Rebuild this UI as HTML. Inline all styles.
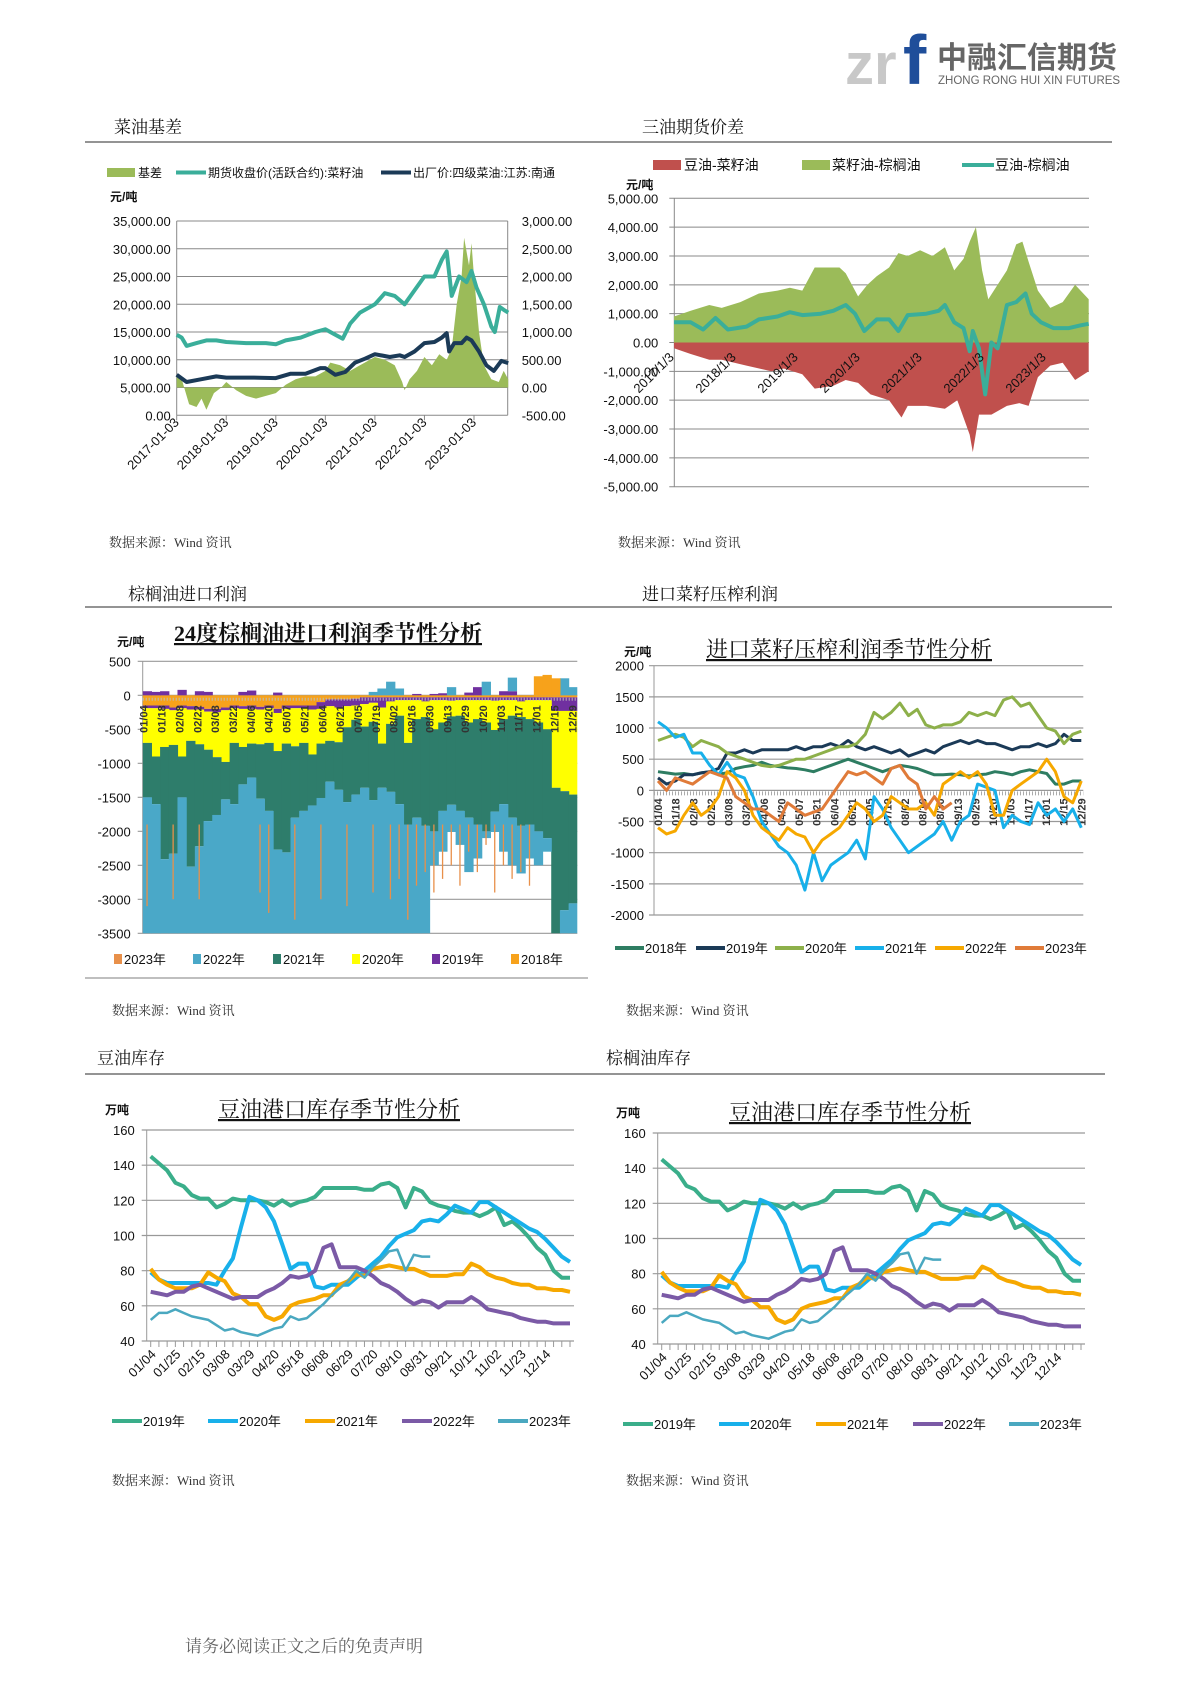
<!DOCTYPE html>
<html><head><meta charset="utf-8">
<style>
body{margin:0;background:#fff;}
svg text{font-family:"Liberation Sans","Noto Sans CJK SC",sans-serif;}
.hd{font-family:"Liberation Serif","Noto Serif CJK SC",serif;font-size:17px;fill:#111;}
.src{font-family:"Liberation Serif","Noto Serif CJK SC",serif;font-size:13px;fill:#333;}
.ttl{font-family:"Liberation Serif","Noto Serif CJK SC",serif;font-size:22px;fill:#111;text-decoration:underline;}
</style></head>
<body>
<svg id="pg" width="1190" height="1683" viewBox="0 0 1190 1683" xmlns="http://www.w3.org/2000/svg">
<g>
<text x="845" y="84" font-size="58" font-weight="bold" fill="#c8c8c8" style="font-family:'Liberation Sans',sans-serif">zr</text>
<text x="903" y="84" font-size="70" font-weight="bold" fill="#1f4e9a" style="font-family:'Liberation Sans',sans-serif">f</text>
<text x="937" y="68" font-size="30" font-weight="bold" fill="#666">中融汇信期货</text>
<text x="938" y="84" font-size="11.5" fill="#666">ZHONG RONG HUI XIN FUTURES</text>
</g>
<g>
<text class="hd" x="114" y="133">菜油基差</text>
<text class="hd" x="642" y="133">三油期货价差</text>
<line x1="85" y1="142" x2="1112" y2="142" stroke="#555" stroke-width="1.2"/>
<text class="hd" x="128" y="600">棕榈油进口利润</text>
<text class="hd" x="642" y="600">进口菜籽压榨利润</text>
<line x1="85" y1="607" x2="1112" y2="607" stroke="#555" stroke-width="1.2"/>
<text class="hd" x="97" y="1064">豆油库存</text>
<text class="hd" x="606" y="1064">棕榈油库存</text>
<line x1="85" y1="1074" x2="1105" y2="1074" stroke="#555" stroke-width="1.2"/>
<line x1="85" y1="978" x2="588" y2="978" stroke="#999" stroke-width="1.2"/>
</g>
<g>
<text class="src" x="109" y="547">数据来源：Wind 资讯</text>
<text class="src" x="618" y="547">数据来源：Wind 资讯</text>
<text class="src" x="112" y="1015">数据来源：Wind 资讯</text>
<text class="src" x="626" y="1015">数据来源：Wind 资讯</text>
<text class="src" x="112" y="1485">数据来源：Wind 资讯</text>
<text class="src" x="626" y="1485">数据来源：Wind 资讯</text>
</g>
<text x="185" y="1652" font-size="17" fill="#666" style="font-family:'Liberation Serif','Noto Serif CJK SC',serif">请务必阅读正文之后的免责声明</text>
</svg>
<script>
// ---------- Chart 1 data: 菜油基差 ----------
const c1BasisT=[2017.0,2017.1,2017.25,2017.4,2017.5,2017.6,2017.75,2017.9,2018.0,2018.2,2018.4,2018.6,2018.8,2019.0,2019.2,2019.4,2019.6,2019.8,2020.0,2020.1,2020.3,2020.5,2020.7,2020.9,2021.0,2021.2,2021.4,2021.55,2021.6,2021.7,2021.85,2022.0,2022.15,2022.3,2022.45,2022.55,2022.65,2022.75,2022.8,2022.9,2022.95,2023.0,2023.1,2023.2,2023.35,2023.5,2023.6,2023.69];
const c1BasisV=[200,150,-300,-350,-200,-400,-100,0,100,-50,-150,-200,-150,-100,50,150,200,200,300,450,400,300,400,500,550,500,400,100,-50,150,300,550,400,600,500,700,1500,2000,2700,2200,2600,2000,1000,400,150,100,300,150];
const c1FutT=[2017.0,2017.1,2017.2,2017.4,2017.6,2017.8,2018.0,2018.4,2018.8,2019.0,2019.2,2019.5,2019.8,2020.0,2020.2,2020.35,2020.5,2020.7,2021.0,2021.2,2021.4,2021.6,2021.8,2022.0,2022.2,2022.35,2022.45,2022.55,2022.7,2022.85,2022.95,2023.05,2023.2,2023.35,2023.42,2023.52,2023.6,2023.69];
const c1FutV=[14500,14000,12500,13000,13500,13500,13200,13000,13000,12800,13500,14000,15000,15500,14500,13800,16500,18500,20000,22000,21500,20000,22500,25000,25000,28000,29500,21500,25000,24000,26000,23000,20000,16000,15000,19500,19000,18500];
const c1SpotT=[2017.0,2017.2,2017.5,2017.8,2018.0,2018.5,2019.0,2019.3,2019.6,2019.9,2020.0,2020.2,2020.4,2020.6,2020.8,2021.0,2021.3,2021.5,2021.6,2021.8,2022.0,2022.2,2022.35,2022.45,2022.5,2022.6,2022.75,2022.85,2022.95,2023.1,2023.25,2023.4,2023.55,2023.69];
const c1SpotV=[7300,6000,6500,7000,6800,6800,6700,7500,7500,8500,8500,7300,7800,9500,10200,11000,10500,10800,10500,11500,13000,13200,14000,14800,11500,13000,13000,14000,13500,11500,9000,8000,9800,9400];
const c1LeftTicks=["0.00","5,000.00","10,000.00","15,000.00","20,000.00","25,000.00","30,000.00","35,000.00"];
const c1RightTicks=["-500.00","0.00","500.00","1,000.00","1,500.00","2,000.00","2,500.00","3,000.00"];
const c1XTicks=["2017-01-03","2018-01-03","2019-01-03","2020-01-03","2021-01-03","2022-01-03","2023-01-03"];
// ---------- Chart 2 data: 三油期货价差 ----------
const c2GreenT=[2017.23,2017.5,2017.8,2018.0,2018.3,2018.6,2018.9,2019.1,2019.3,2019.5,2019.7,2019.9,2020.0,2020.2,2020.35,2020.5,2020.7,2020.85,2021.0,2021.2,2021.4,2021.6,2021.75,2021.9,2022.0,2022.1,2022.2,2022.3,2022.45,2022.6,2022.75,2022.85,2022.95,2023.1,2023.3,2023.5,2023.7,2023.92];
const c2GreenV=[900,1100,1300,1200,1400,1700,1800,1900,1800,2600,2600,2600,2400,1600,2000,2300,2600,3100,3000,3200,3000,3300,2500,2900,3500,4000,2500,1500,2000,2500,3400,3500,2800,1800,1200,1400,2000,1500];
const c2RedT=[2017.23,2017.5,2017.8,2018.0,2018.4,2018.8,2019.0,2019.3,2019.5,2019.8,2020.0,2020.2,2020.4,2020.7,2020.9,2021.0,2021.3,2021.6,2021.8,2022.0,2022.05,2022.15,2022.35,2022.6,2022.8,2022.95,2023.1,2023.3,2023.5,2023.7,2023.92];
const c2RedV=[-200,-400,-600,-600,-800,-1000,-900,-1100,-1600,-1500,-1300,-1400,-1800,-2000,-2600,-2200,-2200,-2300,-2000,-3200,-3800,-2500,-2500,-2200,-2100,-2200,-1200,-800,-700,-1300,-1000];
const c2TealT=[2017.23,2017.5,2017.7,2017.9,2018.1,2018.4,2018.6,2018.9,2019.1,2019.3,2019.6,2019.8,2020.0,2020.15,2020.3,2020.5,2020.7,2020.85,2021.0,2021.3,2021.5,2021.6,2021.75,2021.9,2022.0,2022.05,2022.15,2022.25,2022.35,2022.45,2022.6,2022.75,2022.9,2023.0,2023.15,2023.35,2023.6,2023.8,2023.92];
const c2TealV=[700,700,450,850,450,550,800,900,1050,950,1000,1100,1300,1000,400,800,800,400,950,1000,1100,1300,700,500,-300,400,-200,-1800,0,-200,1300,1400,1700,1000,700,500,500,600,650];
const c2YTicks=["-5,000.00","-4,000.00","-3,000.00","-2,000.00","-1,000.00","0.00","1,000.00","2,000.00","3,000.00","4,000.00","5,000.00"];
const c2XTicks=["2017/1/3","2018/1/3","2019/1/3","2020/1/3","2021/1/3","2022/1/3","2023/1/3"];
// ---------- Chart 3 data: 棕榈油进口利润 ----------
const c3Dates=["01/04","01/18","02/08","02/22","03/08","03/22","04/06","04/20","05/07","05/21","06/04","06/21","07/05","07/19","08/02","08/16","08/30","09/13","09/29","10/20","11/03","11/17","12/01","12/15","12/29"];
const c3V18=[-150,-150,-150,-180,-150,-160,-170,-200,-200,-180,-150,-160,-150,-170,-150,-200,-150,-150,-150,-150,-100,-60,-60,-60,-50,-30,-30,-30,-30,-30,-30,-30,-30,-30,-30,-30,-30,-30,-30,-30,-30,-30,-30,-30,-30,-30,-30,-30,-30,-30];
const c3V19=[-40,-40,-50,-40,-40,-50,-40,-40,-50,-40,-40,-40,-50,-40,-40,-60,-50,-40,-40,-60,-100,-100,-120,-100,-100,-100,-80,-150,-60,-40,-40,-40,-60,-40,-40,-50,-40,-40,-40,-40,-50,-40,-40,-60,-40,-40,-40,-200,-200,-200];
const c3V20=[-510,-710,-560,-510,-710,-460,-510,-560,-660,-760,-510,-560,-510,-510,-510,-560,-510,-560,-510,-660,-510,-510,-510,-310,-210,-330,-280,-530,-330,-230,-630,-280,-230,-430,-330,-230,-230,-330,-280,-330,-430,-280,-230,-230,-280,-330,-430,-1130,-1180,-1230];
const c3V21=[-800,-700,-1650,-1600,-600,-1850,-1500,-1050,-850,-550,-900,-550,-500,-800,-1000,-1450,-1600,-1050,-1000,-750,-800,-600,-700,-1100,-1100,-900,-1150,-650,-1000,-1300,-1200,-1450,-1600,-1500,-1300,-1300,-1400,-1400,-1550,-1600,-1200,-1250,-1500,-1600,-1550,-1600,-1600,-2200,-1750,-1600];
const c3V22=[-2100,-2000,-1200,-1300,-2100,-1100,-1400,-1800,-1900,-2100,-2000,-2300,-2400,-2100,-1900,-1400,-1300,-1800,-1900,-2000,-2100,-2300,-2200,-2000,-2100,-2300,-2100,-2400,-2200,-2000,-1700,-1800,-1700,-500,-600,-400,-500,-800,-500,-100,-300,-700,-700,-700,-500,-500,-200,-200,-600,-700];
const c3V23=[-3100,0,0,-3000,0,0,-3000,0,0,0,0,0,0,-2900,-3200,0,0,-3300,0,0,-3000,0,0,-3100,0,0,-2900,0,-3000,-2700,-3300,-2800,-2600,-2900,-2700,-2500,-2800,-2300,-2600,-2200,-2900,-2500,-2700,-2600,-2800,0,0,0,0,0];
const c3P18=[0,0,0,0,0,0,0,0,0,0,0,0,0,0,0,0,0,0,0,0,0,0,0,0,0,0,0,0,0,0,0,0,0,0,0,0,0,0,0,0,0,0,0,0,0,280,300,250,0,0];
const c3P19=[60,50,60,0,80,0,60,50,0,0,0,50,70,0,0,40,0,0,0,0,0,0,0,0,0,0,0,0,0,0,0,20,0,20,30,0,0,40,120,0,0,60,60,0,0,0,0,0,0,0];
const c3P22=[0,0,0,0,0,0,0,0,0,0,0,0,0,0,0,0,0,0,0,0,0,0,0,0,0,0,50,100,200,100,0,0,0,0,0,120,0,0,0,200,0,0,200,0,0,0,0,0,250,120];
const c3YTicks=["-3500","-3000","-2500","-2000","-1500","-1000","-500","0","500"];
// ---------- Chart 4 data: 进口菜籽压榨利润 ----------
const c4Dates=c3Dates.slice();
const c4S18=[300,280,260,270,250,280,300,260,280,350,380,400,450,400,380,360,350,330,300,350,400,450,500,450,400,350,300,350,400,380,350,300,250,250,260,250,230,250,260,300,280,250,300,330,300,270,100,100,150,150];
const c4S19=[200,100,150,250,250,280,300,350,600,600,650,600,650,650,650,650,700,650,700,700,750,700,800,700,650,700,650,600,650,550,600,650,600,700,750,800,750,800,750,750,700,650,700,700,750,700,750,900,800,800];
const c4S20=[800,850,900,850,700,800,750,700,600,550,500,450,400,380,400,450,500,500,550,600,650,700,700,750,900,1250,1150,1250,1400,1200,1300,1050,1000,1050,1050,1100,1250,1200,1250,1200,1450,1500,1350,1400,1200,1000,950,750,900,950];
const c4S21=[1100,1000,850,900,600,600,400,250,450,250,200,-100,-500,-700,-900,-1000,-1200,-1600,-1000,-1450,-1200,-1100,-1000,-800,-1100,-100,-300,-600,-800,-1000,-900,-800,-700,-500,-800,-500,-400,100,50,0,-600,-400,-500,-550,-200,-400,-300,-500,-300,-600];
const c4S22=[-600,-700,-650,-400,-200,-400,-300,-100,300,200,0,-400,-600,-700,-800,-600,-700,-750,-1000,-800,-700,-600,-400,-200,-300,-500,-400,-100,-200,-300,-300,-200,-400,100,200,300,200,300,100,-400,-400,0,100,200,300,500,300,-100,-200,150];
const c4S23=[150,0,200,150,100,200,300,250,200,-100,-200,-300,-300,-400,-500,-200,-300,-400,-350,-300,-100,100,300,250,300,200,100,350,400,200,100,-300,-100,-300,-200];
const c4YTicks=["-2000","-1500","-1000","-500","0","500","1000","1500","2000"];
// ---------- Chart 5/6 data: 豆油港口库存 ----------
const c5Labels=["01/04","01/25","02/15","03/08","03/29","04/20","05/18","06/08","06/29","07/20","08/10","08/31","09/21","10/12","11/02","11/23","12/14"];
const c5Y2019=[145,141,137,130,128,123,121,121,116,118,121,120,120,120,119,117,120,117,119,120,122,127,127,127,127,127,126,126,129,130,127,116,127,125,119,117,116,114,113,113,111,113,116,106,108,104,99,93,89,80,76,76];
const c5Y2020=[79,75,73,73,73,73,73,73,72,80,87,105,122,120,116,108,95,81,84,84,71,70,72,72,72,76,80,84,88,94,99,101,103,108,109,108,112,117,115,113,119,119,116,113,110,107,104,102,98,93,88,85];
const c5Y2021=[81,75,72,70,70,70,72,79,76,74,67,65,61,61,54,52,54,60,62,63,64,66,66,72,74,78,77,81,82,83,82,81,81,79,77,77,77,78,78,84,82,78,76,75,73,72,72,70,70,69,69,68];
const c5Y2022=[68,67,66,68,68,71,72,70,68,66,64,65,65,65,68,70,73,77,76,77,80,93,95,82,82,82,80,77,73,71,68,64,61,63,62,59,62,62,62,65,62,58,57,56,55,53,52,51,51,50,50,50];
const c5Y2023=[52,56,56,58,56,54,53,52,49,46,47,45,44,43,45,47,48,54,52,53,57,61,66,70,74,80,76,82,86,91,92,80,89,88,88];
const c5YTicks=["40","60","80","100","120","140","160"];

const NS="http://www.w3.org/2000/svg";
const pg=document.getElementById('pg');
function el(tag,parent,attrs){const e=document.createElementNS(NS,tag);for(const k in attrs)e.setAttribute(k,attrs[k]);parent.appendChild(e);return e;}
function pathOf(pts){return pts.map((p,i)=>(i?'L':'M')+p[0].toFixed(1)+','+p[1].toFixed(1)).join('');}

// ===== Chart 1 =====
(function(){
 const g=el('g',pg,{});
 
 
 const L=176.7,R=507.7,T=221,B=415.3;
 const x=t=>L+(t-2017.0)*49.55;
 const yl=v=>B-(v/35000)*(B-T);
 const yr=v=>B-((v+500)/3500)*(B-T);
 for(let i=0;i<c1LeftTicks.length;i++){const yy=B-i*(B-T)/7;
  el('line',g,{x1:L,x2:R,y1:yy,y2:yy,stroke:'#888','stroke-width':1});
  const t=el('text',g,{x:L-6,y:yy+5,'font-size':13,'text-anchor':'end',fill:'#111'});t.textContent=c1LeftTicks[i];
  const t2=el('text',g,{x:R+14,y:yy+5,'font-size':13,fill:'#111'});t2.textContent=c1RightTicks[i];
 }
 el('line',g,{x1:L,x2:L,y1:T,y2:B,stroke:'#888'});el('line',g,{x1:R,x2:R,y1:T,y2:B,stroke:'#888'});
 const z=yr(0);
 const ap=c1BasisT.map((t,i)=>[x(t),yr(c1BasisV[i])]);
 const area=el('path',g,{d:pathOf([[x(c1BasisT[0]),z],...ap,[x(c1BasisT[c1BasisT.length-1]),z]])+'Z',fill:'#9bbb59'});
 
 
 const fl=el('path',g,{d:pathOf(c1FutT.map((t,i)=>[x(t),yl(c1FutV[i])])),fill:'none',stroke:'#3aae9a','stroke-width':4,'stroke-linejoin':'round'});
 
 
 const sl=el('path',g,{d:pathOf(c1SpotT.map((t,i)=>[x(t),yl(c1SpotV[i])])),fill:'none',stroke:'#1b3a57','stroke-width':4,'stroke-linejoin':'round'});
 
 
 c1XTicks.forEach((lab,i)=>{const xx=x(2017+i);el('line',g,{x1:xx,x2:xx,y1:B,y2:B+5,stroke:'#888'});
  const t=el('text',g,{x:xx+3,y:B+8,'font-size':13,'text-anchor':'end',fill:'#111',transform:`rotate(-45 ${xx+3} ${B+8})`});t.textContent=lab;});
 const u=el('text',g,{x:110,y:201,'font-size':12,'font-weight':'bold',fill:'#111'});u.textContent='元/吨';
 const lg=el('g',g,{});
 
 
 el('rect',lg,{x:107,y:168,width:28,height:9,fill:'#9bbb59'});
 let t=el('text',lg,{x:138,y:177,'font-size':12,fill:'#111'});t.textContent='基差';
 el('line',lg,{x1:176,x2:206,y1:172.5,y2:172.5,stroke:'#3aae9a','stroke-width':4});
 t=el('text',lg,{x:208,y:177,'font-size':12,fill:'#111'});t.textContent='期货收盘价(活跃合约):菜籽油';
 el('line',lg,{x1:381,x2:411,y1:172.5,y2:172.5,stroke:'#1b3a57','stroke-width':4});
 t=el('text',lg,{x:413,y:177,'font-size':12,fill:'#111'});t.textContent='出厂价:四级菜油:江苏:南通';
})();

// ===== Chart 2 =====
(function(){
 const g=el('g',pg,{});
 
 
 const L=674.3,R=1089,T=198.3,B=486.7;
 const x=t=>721.7+(t-2018)*62;
 const y=v=>T+(5000-v)/10000*(B-T);
 for(let i=0;i<c2YTicks.length;i++){const yy=B-i*(B-T)/10;
  el('line',g,{x1:L-5,x2:R,y1:yy,y2:yy,stroke:'#888','stroke-width':1});
  const t=el('text',g,{x:L-16,y:yy+5,'font-size':13,'text-anchor':'end',fill:'#111'});t.textContent=c2YTicks[i];}
 el('line',g,{x1:L,x2:L,y1:T,y2:B,stroke:'#888'});
 const z=y(0);
 const ga=el('path',g,{d:pathOf([[x(c2GreenT[0]),z],...c2GreenT.map((t,i)=>[x(t),y(c2GreenV[i])]),[x(c2GreenT[c2GreenT.length-1]),z]])+'Z',fill:'#9bbb59'});
 
 
 const ra=el('path',g,{d:pathOf([[x(c2RedT[0]),z],...c2RedT.map((t,i)=>[x(t),y(c2RedV[i])]),[x(c2RedT[c2RedT.length-1]),z]])+'Z',fill:'#c0504d'});
 
 
 const tl=el('path',g,{d:pathOf(c2TealT.map((t,i)=>[x(t),y(c2TealV[i])])),fill:'none',stroke:'#3aae9a','stroke-width':4,'stroke-linejoin':'round'});
 
 
 c2XTicks.forEach((lab,i)=>{const xx=x(2017+i)+15;
  const t=el('text',g,{x:xx,y:358,'font-size':13,'text-anchor':'end',fill:'#111',transform:`rotate(-45 ${xx} 358)`});t.textContent=lab;});
 const u=el('text',g,{x:626,y:189,'font-size':12,'font-weight':'bold',fill:'#111'});u.textContent='元/吨';
 const lg=el('g',g,{});
 
 
 el('rect',lg,{x:653,y:160,width:28,height:10,fill:'#c0504d'});
 let t=el('text',lg,{x:684,y:170,'font-size':14,fill:'#111'});t.textContent='豆油-菜籽油';
 el('rect',lg,{x:802,y:160,width:28,height:10,fill:'#9bbb59'});
 t=el('text',lg,{x:832,y:170,'font-size':14,fill:'#111'});t.textContent='菜籽油-棕榈油';
 el('line',lg,{x1:962,x2:994,y1:165,y2:165,stroke:'#3aae9a','stroke-width':4});
 t=el('text',lg,{x:995,y:170,'font-size':14,fill:'#111'});t.textContent='豆油-棕榈油';
})();

// ===== Chart 3 =====
(function(){
 const g=el('g',pg,{});
 
 
 const L=142.7,R=577.3,T=661.3,B=933.3,N=c3V18.length;
 const y=v=>T+(500-v)/4000*(B-T);
 const bw=(R-L)/N, x=i=>L+i*bw;
 for(let i=0;i<c3YTicks.length;i++){const yy=B-i*(B-T)/8;
  el('line',g,{x1:L-5,x2:R,y1:yy,y2:yy,stroke:'#999','stroke-width':1.2});
  const t=el('text',g,{x:L-12,y:yy+5,'font-size':13,'text-anchor':'end',fill:'#111'});t.textContent=c3YTicks[i];}
 el('line',g,{x1:L,x2:L,y1:T,y2:B,stroke:'#999'});
 const negSeries=[[c3V18,'#f7a21b','bar-2018'],[c3V19,'#7030a0','bar-2019'],[c3V20,'#ffff00','bar-2020'],[c3V21,'#2e7d6b','bar-2021'],[c3V22,'#4aa8c8','bar-2022']];
 const cl=el('clipPath',g,{id:'c3clip'});el('rect',cl,{x:L,y:T-40,width:R-L,height:B-T+40});
 const bars=el('g',g,{'clip-path':'url(#c3clip)'});
 const cum=new Array(N).fill(0);
 negSeries.forEach(([arr,col,nm])=>{
  for(let i=0;i<N;i++){const a=cum[i],b=cum[i]+arr[i];cum[i]=b;
   const r=el('rect',bars,{x:x(i),y:y(a),width:bw+0.6,height:Math.max(0,y(b)-y(a)),fill:col});
   
   }
 });
 const pcum=new Array(N).fill(0);
 [[c3P19,'#7030a0','bar-2019-pos'],[c3P22,'#4aa8c8','bar-2022-pos'],[c3P18,'#f7a21b','bar-2018-pos']].forEach(([arr,col,nm])=>{
  for(let i=0;i<N;i++){if(!arr[i])continue;const a=pcum[i],b=a+arr[i];pcum[i]=b;
   const r=el('rect',bars,{x:x(i),y:y(b),width:bw+0.6,height:y(a)-y(b),fill:col});
   
   }
 });
 for(let i=0;i<N;i++){if(!c3V23[i])continue;
  const ln=el('line',bars,{x1:x(i)+bw/2,x2:x(i)+bw/2,y1:y(-1900),y2:y(c3V23[i]),stroke:'#e8904a','stroke-width':1.3});
  
  }
 el('line',g,{x1:L,x2:R,y1:y(0)+4,y2:y(0)+4,stroke:'#bbb','stroke-width':3,'stroke-dasharray':'1 2'});
 const step=(R-L-6)/(c3Dates.length-1);
 c3Dates.forEach((d,i)=>{const xx=L+5+i*step;
  const t=el('text',g,{x:xx,y:y(0)+10,'font-size':11,'font-weight':'bold','text-anchor':'end',fill:'#333',transform:`rotate(-90 ${xx} ${y(0)+10})`});t.textContent=d;});
 const ti=el('text',g,{x:328,y:641,'font-size':22,'font-weight':'bold','text-anchor':'middle',fill:'#111','text-decoration':'underline',class:'ttl'});ti.textContent='24度棕榈油进口利润季节性分析';
 const u=el('text',g,{x:117,y:646,'font-size':12,'font-weight':'bold',fill:'#111'});u.textContent='元/吨';
 const lg=el('g',g,{});
 
 
 [['2023年','#e8904a',114],['2022年','#4aa8c8',193],['2021年','#2e7d6b',273],['2020年','#ffff00',352],['2019年','#7030a0',432],['2018年','#f7a21b',511]].forEach(([lab,col,xx])=>{
  el('rect',lg,{x:xx,y:954,width:8,height:10,fill:col});
  const t=el('text',lg,{x:xx+10,y:964,'font-size':13,fill:'#111'});t.textContent=lab;});
})();

// ===== Chart 4 =====
(function(){
 const g=el('g',pg,{});
 
 
 const L=654,R=1083.3,T=665.7,B=915,N=50;
 const y=v=>T+(2000-v)/4000*(B-T);
 const x=i=>L+4+i*(R-L-6)/(N-1);
 for(let i=0;i<c4YTicks.length;i++){const yy=B-i*(B-T)/8;
  el('line',g,{x1:L-5,x2:R,y1:yy,y2:yy,stroke:'#999','stroke-width':1.2});
  const t=el('text',g,{x:L-10,y:yy+5,'font-size':13,'text-anchor':'end',fill:'#111'});t.textContent=c4YTicks[i];}
 el('line',g,{x1:L,x2:L,y1:T,y2:B,stroke:'#999'});
 el('line',g,{x1:L,x2:R,y1:y(0)+3,y2:y(0)+3,stroke:'#aaa','stroke-width':4,'stroke-dasharray':'1 2'});
 const step=(R-L-6)/(c4Dates.length-1);
 c4Dates.forEach((d,i)=>{const xx=L+8+i*step;
  const t=el('text',g,{x:xx,y:y(0)+8,'font-size':11,'font-weight':'bold','text-anchor':'end',fill:'#333',transform:`rotate(-90 ${xx} ${y(0)+8})`});t.textContent=d;});
 [[c4S18,'#2e7d62','line-2018'],[c4S19,'#1b3a57','line-2019'],[c4S20,'#8db04a','line-2020'],[c4S21,'#18b0ea','line-2021'],[c4S22,'#f6a800','line-2022'],[c4S23,'#e07b39','line-2023']].forEach(([arr,col,nm])=>{
  const p=el('path',g,{d:pathOf(arr.map((v,i)=>[x(i),y(v)])),fill:'none',stroke:col,'stroke-width':3,'stroke-linejoin':'round'});
  
  });
 const ti=el('text',g,{x:849,y:657,'font-size':21,'text-anchor':'middle',fill:'#111',class:'ttl'});ti.textContent='进口菜籽压榨利润季节性分析';
 const u=el('text',g,{x:624,y:656,'font-size':12,'font-weight':'bold',fill:'#111'});u.textContent='元/吨';
 const lg=el('g',g,{});
 
 
 [['2018年','#2e7d62',615],['2019年','#1b3a57',696],['2020年','#8db04a',775],['2021年','#18b0ea',855],['2022年','#f6a800',935],['2023年','#e07b39',1015]].forEach(([lab,col,xx])=>{
  el('line',lg,{x1:xx,x2:xx+29,y1:948,y2:948,stroke:col,'stroke-width':4});
  const t=el('text',lg,{x:xx+30,y:953,'font-size':13,fill:'#111'});t.textContent=lab;});
})();

// ===== Chart 5 & 6 =====
function invChart(ox,oy,name){
 const g=el('g',pg,{});
 
 
 const L=146.7+ox,R=574+ox,T=1130+oy,B=1341+oy;
 const y=v=>B-(v-40)/120*(B-T);
 const x=i=>L+4+i*(R-L-8)/51;
 for(let i=0;i<c5YTicks.length;i++){const yy=B-i*(B-T)/6;
  el('line',g,{x1:L-5,x2:R,y1:yy,y2:yy,stroke:'#999','stroke-width':1.2});
  const t=el('text',g,{x:L-12,y:yy+5,'font-size':13,'text-anchor':'end',fill:'#111'});t.textContent=c5YTicks[i];}
 el('line',g,{x1:L,x2:L,y1:T,y2:B,stroke:'#999'});
 for(let i=0;i<52;i++)el('line',g,{x1:x(i),x2:x(i),y1:B,y2:B+6,stroke:'#999'});
 c5Labels.forEach((lab,i)=>{const xx=x(i*3)+6;
  const t=el('text',g,{x:xx,y:B+14,'font-size':13,'text-anchor':'end',fill:'#111',transform:`rotate(-45 ${xx} ${B+14})`});t.textContent=lab;});
 [[c5Y2019,'#3aae8a','line-2019',4],[c5Y2020,'#18b0ea','line-2020',4],[c5Y2021,'#f6a800','line-2021',4],[c5Y2022,'#7b5aa6','line-2022',4],[c5Y2023,'#4aa8c0','line-2023',2.5]].forEach(([arr,col,nm,w])=>{
  const p=el('path',g,{d:pathOf(arr.map((v,i)=>[x(i),y(v)])),fill:'none',stroke:col,'stroke-width':w,'stroke-linejoin':'round'});
  
  });
 const ti=el('text',g,{x:339+ox,y:1117+oy,'font-size':23,'text-anchor':'middle',fill:'#111',class:'ttl'});ti.textContent='豆油港口库存季节性分析';
 const u=el('text',g,{x:105+ox,y:1114+oy,'font-size':12,'font-weight':'bold',fill:'#111'});u.textContent='万吨';
 const lg=el('g',g,{});
 
 
 [['2019年','#3aae8a',112],['2020年','#18b0ea',208],['2021年','#f6a800',305],['2022年','#7b5aa6',402],['2023年','#4aa8c0',498]].forEach(([lab,col,xx])=>{
  el('line',lg,{x1:xx+ox,x2:xx+ox+30,y1:1421+oy,y2:1421+oy,stroke:col,'stroke-width':4});
  const t=el('text',lg,{x:xx+ox+31,y:1426+oy,'font-size':13,fill:'#111'});t.textContent=lab;});
}
invChart(0,0,'chart-soybean-oil-inventory');
invChart(511,3,'chart-palm-oil-inventory');
</script>
</body></html>
